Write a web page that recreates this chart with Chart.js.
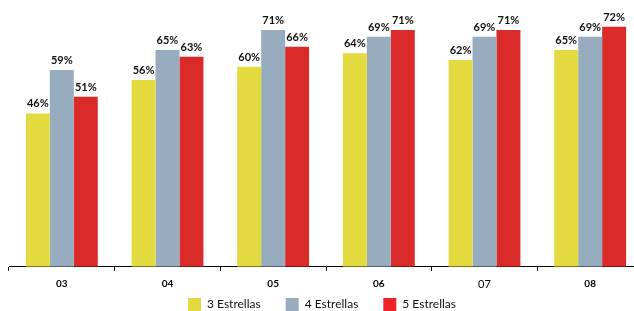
<!DOCTYPE html>
<html>
<head>
<meta charset="utf-8">
<script src="https://cdn.jsdelivr.net/npm/chart.js@4.4.1/dist/chart.umd.min.js"></script>
<style>
  html, body { margin: 0; padding: 0; background: #fff; overflow: hidden; }
  #wrap { width: 634px; height: 311px; overflow: hidden; }
</style>
</head>
<body>
<div id="wrap"><canvas id="barChart" width="643" height="311"></canvas></div>
<script>
// Datos del gráfico
const years = ['03', '04', '05', '06', '07', '08'];
const tres = [46, 56, 60, 64, 62, 65];
const cuatro = [59, 65, 71, 69, 69, 69];
const cinco = [51, 63, 66, 71, 71, 72];

const FONT = 'Lato, "Open Sans", sans-serif';
const LEGEND_PAD = 25;

// etiquetas de porcentaje encima de cada barra
const valueLabels = {
    id: 'valueLabels',
    afterDatasetsDraw(chart) {
        const ctx = chart.ctx;
        ctx.save();
        ctx.font = 'bold 11px ' + FONT;
        ctx.fillStyle = '#111';
        ctx.textAlign = 'center';
        ctx.textBaseline = 'alphabetic';
        chart.data.datasets.forEach((ds, i) => {
            chart.getDatasetMeta(i).data.forEach((bar, j) => {
                ctx.fillText(ds.data[j] + '%', bar.x, bar.y - 6);
            });
        });
        ctx.restore();
    }
};

// leyenda: separación horizontal grande pero poca altura
const legendPlace = {
    id: 'legendPlace',
    beforeInit(chart) {
        const fit = chart.legend.fit;
        chart.legend.fit = function () {
            fit.bind(chart.legend)();
            this.height = 13;
        };
    },
    afterLayout(chart) {
        const lg = chart.legend;
        lg.top = 298 - LEGEND_PAD;
        lg.bottom = chart.height;
        lg.left -= 4;
        lg.right -= 4;
    }
};

const ctx = document.getElementById('barChart').getContext('2d');
const barChart = new Chart(ctx, {
    type: 'bar',
    data: {
        labels: years,
        datasets: [
            { label: '3 Estrellas', data: tres, backgroundColor: '#E3DA3F' },
            { label: '4 Estrellas', data: cuatro, backgroundColor: '#97ACBF' },
            { label: '5 Estrellas', data: cinco, backgroundColor: '#DB2A2A' }
        ]
    },
    options: {
        responsive: false,
        animation: false,
        layout: {
            padding: { left: 9, top: 0, right: 0, bottom: 0 }
        },
        datasets: {
            bar: {
                categoryPercentage: 0.68,
                barPercentage: 1.0,
                borderWidth: 0
            }
        },
        scales: {
            x: {
                border: { display: true, color: '#000', width: 1 },
                grid: {
                    drawOnChartArea: false,
                    drawTicks: true,
                    tickLength: 4,
                    color: '#000'
                },
                ticks: {
                    color: '#000',
                    padding: 7,
                    font: (c) => ({
                        family: FONT,
                        size: c.index === 4 ? 11 : 10,
                        weight: c.index === 4 ? 'normal' : 'bold'
                    })
                }
            },
            y: {
                display: false,
                min: 0,
                max: 80
            }
        },
        plugins: {
            legend: {
                position: 'bottom',
                labels: {
                    boxWidth: 13,
                    boxHeight: 13,
                    padding: LEGEND_PAD,
                    color: '#111',
                    font: { family: FONT, size: 12 },
                    generateLabels(chart) {
                        const items = Chart.defaults.plugins.legend.labels.generateLabels(chart);
                        items[2].fillStyle = '#EE2229';
                        return items;
                    }
                }
            },
            tooltip: { enabled: false }
        }
    },
    plugins: [valueLabels, legendPlace]
});
</script>
</body>
</html>
